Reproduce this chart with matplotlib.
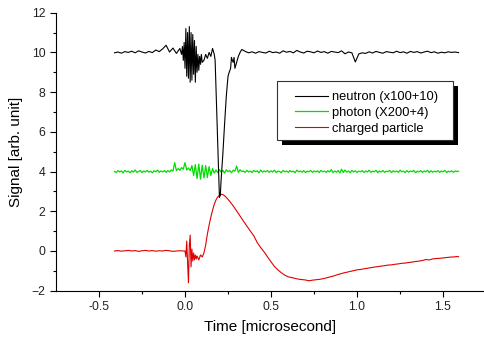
import numpy as np
import matplotlib
matplotlib.use("Agg")
import matplotlib.pyplot as plt
from matplotlib.patches import Rectangle

plt.rcParams['font.family'] = ['Liberation Sans', 'DejaVu Sans']

# ---------------- data ----------------
# neutron (x100+10)
neutron_base1_t = [-0.41, -0.39, -0.37, -0.35, -0.33, -0.31, -0.29, -0.27, -0.25, -0.23,
                   -0.21, -0.19, -0.17, -0.15, -0.13, -0.11, -0.09, -0.07, -0.05, -0.03]
neutron_base1_v = [9.98, 10.02, 9.96, 10.04, 10.00, 10.06, 9.98, 10.08, 10.02, 9.97,
                   10.05, 9.99, 10.12, 10.04, 10.18, 10.36, 10.02, 10.22, 9.95, 10.20]
neutron_burst_t = [-0.02, -0.015, -0.01, -0.005, 0.0, 0.005, 0.01, 0.015, 0.02, 0.025,
                   0.03, 0.035, 0.04, 0.045, 0.05, 0.055, 0.06, 0.065, 0.07, 0.075,
                   0.08, 0.085, 0.09, 0.095, 0.10, 0.11, 0.12, 0.13, 0.14, 0.15,
                   0.16, 0.17, 0.175, 0.18, 0.19, 0.20, 0.205, 0.21, 0.22, 0.23,
                   0.24, 0.25, 0.255, 0.265, 0.27, 0.275, 0.28, 0.285, 0.29, 0.30,
                   0.31, 0.32, 0.33]
neutron_burst_v = [9.9, 10.3, 9.6, 10.5, 9.2, 11.2, 8.8, 11.0, 8.7, 11.3,
                   8.5, 11.0, 8.6, 10.9, 8.9, 10.6, 8.5, 10.3, 9.0, 9.9,
                   9.1, 9.8, 9.4, 9.9, 9.5, 9.6, 9.9, 9.7, 10.0, 9.8,
                   10.2, 9.9, 9.6, 8.2, 5.4, 2.7, 2.8, 3.6, 4.9, 6.4,
                   7.8, 8.8, 8.95, 9.2, 9.75, 9.6, 9.5, 9.75, 9.2, 9.5,
                   9.8, 10.0, 10.15]
neutron_base2_v = [10.05, 9.98, 10.03, 9.96, 10.04, 10.00, 9.97, 10.06, 9.99, 10.02,
                   9.96, 10.08, 10.01, 10.05, 9.98, 10.10, 10.02, 9.97, 10.06, 10.03,
                   9.98, 10.07, 10.00, 10.04, 9.96, 10.05, 10.02, 9.99, 10.08, 9.93,
                   10.02, 9.98, 9.52, 9.92, 9.98, 9.95, 10.03, 9.97, 10.05, 10.00,
                   9.96, 10.04, 10.01, 9.98, 10.06, 9.99, 10.03, 9.96, 10.05, 10.00,
                   10.04, 9.97, 10.02, 10.06, 9.99, 10.03, 9.96, 10.01, 9.98, 10.03,
                   10.00, 10.02, 9.99]
neutron_base2_t = np.round(0.35 + 0.02 * np.arange(len(neutron_base2_v)), 2)

# photon (X200+4), sampled every 0.01 from -0.41
photon_v = [4.00, 3.95, 4.05, 3.98, 4.03, 3.93, 4.06, 3.99, 4.02, 3.94,
            4.04, 3.97, 4.08, 3.96, 4.01, 4.05, 3.95, 4.03, 3.98, 4.06,
            3.97, 4.02, 3.94, 4.04, 3.99, 4.07, 3.96, 4.03, 3.98, 4.05,
            3.96, 4.05, 3.98, 4.08, 4.02, 4.45, 4.04, 4.15, 4.06, 4.20,
            4.12, 4.45, 4.08, 4.18, 4.05, 4.30, 3.80, 4.35, 3.65, 4.38,
            3.62, 4.32, 3.68, 4.30, 3.70, 4.25, 3.80, 4.15, 3.92, 4.08,
            3.95, 4.10, 3.97, 4.06, 3.92, 4.09, 3.99, 4.05, 3.94, 4.07,
            4.02, 4.28, 3.96, 4.09, 4.00, 4.03, 3.96, 4.06, 3.98, 4.02,
            3.95, 4.06, 3.99, 4.04, 3.93, 4.08, 3.97, 4.03, 3.99, 4.05,
            3.96, 4.04, 3.98, 4.07, 3.95, 4.02, 4.00, 3.94, 4.06, 3.99,
            4.03, 3.96, 4.05, 3.98, 4.02, 3.94, 4.07, 3.99, 4.03, 3.97,
            4.05, 3.95, 4.02, 3.99, 4.06, 3.96, 4.03, 3.98, 4.04, 3.95,
            4.06, 3.99, 4.02, 3.96, 4.04, 3.98, 4.10, 3.94, 4.03, 3.97,
            4.05, 3.93, 4.12, 3.95, 4.08, 3.97, 4.03, 3.94, 4.06, 3.98,
            4.04, 3.96, 4.02, 3.99, 4.05, 3.95, 4.03, 3.98, 4.07, 3.96,
            4.02, 3.99, 4.06, 3.94, 4.03, 3.98, 4.05, 3.96, 4.02, 3.99,
            4.06, 3.95, 4.04, 3.98, 4.03, 3.96, 4.07, 3.99, 4.02, 3.95,
            4.05, 3.97, 4.03, 3.99, 4.06, 3.94, 4.02, 3.98, 4.05, 3.96,
            4.03, 3.99, 4.06, 3.95, 4.04, 3.97, 4.02, 3.98, 4.05, 3.96,
            4.03, 3.99, 4.06, 3.95, 4.02, 3.98, 4.04, 3.96, 4.03, 4.00,
            4.02]
photon_t = np.round(-0.41 + 0.01 * np.arange(len(photon_v)), 2)

# charged particle
charged_t = [-0.41, -0.39, -0.37, -0.35, -0.33, -0.31, -0.29, -0.27, -0.25, -0.23,
             -0.21, -0.19, -0.17, -0.15, -0.13, -0.11, -0.09, -0.07, -0.05, -0.03,
             -0.01, 0.0, 0.005, 0.01, 0.015, 0.02, 0.025, 0.03, 0.035, 0.04,
             0.045, 0.05, 0.055, 0.06, 0.065, 0.07, 0.08, 0.09, 0.10, 0.11,
             0.12, 0.13, 0.14, 0.15, 0.16, 0.17, 0.18, 0.19, 0.20, 0.21,
             0.22, 0.23, 0.24, 0.26, 0.28, 0.30, 0.32, 0.34, 0.36, 0.38,
             0.40, 0.42, 0.44, 0.46, 0.48, 0.50, 0.52, 0.54, 0.56, 0.58,
             0.60, 0.62, 0.64, 0.66, 0.68, 0.70, 0.72, 0.74, 0.76, 0.78,
             0.80, 0.82, 0.84, 0.86, 0.88, 0.90, 0.92, 0.94, 0.96, 0.98,
             1.00, 1.02, 1.04, 1.06, 1.08, 1.10, 1.12, 1.14, 1.16, 1.18,
             1.20, 1.22, 1.24, 1.26, 1.28, 1.30, 1.32, 1.34, 1.36, 1.38,
             1.40, 1.42, 1.44, 1.46, 1.48, 1.50, 1.52, 1.54, 1.56, 1.58, 1.59]
charged_v = [0.00, 0.02, -0.01, 0.01, 0.03, 0.00, 0.02, -0.02, 0.01, 0.03,
             0.00, 0.02, -0.01, 0.01, 0.00, 0.03, 0.01, -0.02, 0.00, 0.01,
             0.00, 0.0, -0.3, 0.5, -0.6, -1.6, 0.3, 0.8, -0.8, 0.1,
             -0.5, -0.1, -0.45, -0.2, -0.4, -0.25, -0.45, -0.2, -0.3, -0.1,
             0.3, 0.85, 1.3, 1.7, 2.05, 2.35, 2.57, 2.72, 2.80, 2.85,
             2.84, 2.78, 2.70, 2.50, 2.27, 2.02, 1.76, 1.50, 1.25, 1.00,
             0.76, 0.42, 0.17, -0.05, -0.30, -0.55, -0.78, -0.95, -1.10, -1.22,
             -1.30, -1.34, -1.38, -1.42, -1.44, -1.46, -1.50, -1.47, -1.45, -1.43,
             -1.40, -1.36, -1.31, -1.27, -1.21, -1.16, -1.11, -1.07, -1.03, -0.99,
             -0.95, -0.93, -0.90, -0.87, -0.84, -0.81, -0.79, -0.76, -0.74, -0.71,
             -0.70, -0.67, -0.65, -0.62, -0.61, -0.58, -0.56, -0.53, -0.51, -0.48,
             -0.43, -0.45, -0.40, -0.38, -0.37, -0.35, -0.33, -0.31, -0.30, -0.28, -0.29]

x_ticks = [-0.5, 0.0, 0.5, 1.0, 1.5]
y_ticks = [-2, 0, 2, 4, 6, 8, 10, 12]
labels = ["neutron (x100+10)", "photon (X200+4)", "charged particle"]

# ---------------- plot ----------------
W, H = 484, 338
fig = plt.figure(figsize=(W / 100, H / 100), dpi=100)
ax_l, ax_r, ax_t, ax_b = 56, 484, 12.7, 290.7
ax = fig.add_axes([ax_l / W, (H - ax_b) / H, (ax_r - ax_l) / W, (ax_b - ax_t) / H])

neutron_t = list(neutron_base1_t) + list(neutron_burst_t) + list(neutron_base2_t)
neutron_v = list(neutron_base1_v) + list(neutron_burst_v) + list(neutron_base2_v)

l1, = ax.plot(neutron_t, neutron_v, color='black', lw=0.8, label=labels[0], zorder=3)
l2, = ax.plot(photon_t, photon_v, color='#00dd00', lw=0.9, label=labels[1], zorder=2)
l3, = ax.plot(charged_t, charged_v, color='#e00000', lw=0.8, label=labels[2], zorder=2)

ax.set_xlim(-0.75, 1.738)
ax.set_ylim(-2, 12)
ax.set_xticks(x_ticks)
ax.set_xticklabels([f"{v:.1f}" for v in x_ticks])
ax.set_yticks(y_ticks)
ax.set_xticks([-0.25, 0.25, 0.75, 1.25], minor=True)
ax.set_yticks([-1, 1, 3, 5, 7, 9, 11], minor=True)
ax.tick_params(which='major', direction='out', length=4.5, width=0.8, labelsize=8.8,
               pad=3, labelcolor='#222222')
ax.tick_params(which='minor', direction='out', length=2.5, width=0.8)
ax.spines['top'].set_visible(False)
ax.spines['right'].set_visible(False)
ax.spines['left'].set_linewidth(0.8)
ax.spines['bottom'].set_linewidth(0.8)

ax.set_xlabel("Time [microsecond]", fontsize=11, labelpad=5)
ax.set_ylabel("Signal [arb. unit]", fontsize=11, labelpad=6)

# legend box (frame + shadow) in axes-fraction coordinates
def fx(px):
    return (px - ax_l) / (ax_r - ax_l)

def fy(py):
    return (ax_b - py) / (ax_b - ax_t)

box_x0, box_x1, box_y0, box_y1 = 277, 453, 81, 140
shadow = Rectangle((fx(box_x0 + 5), fy(box_y1 + 5)), fx(box_x1) - fx(box_x0),
                   fy(box_y0) - fy(box_y1), transform=ax.transAxes,
                   facecolor='black', edgecolor='none', zorder=5, clip_on=False)
frame = Rectangle((fx(box_x0), fy(box_y1)), fx(box_x1) - fx(box_x0),
                  fy(box_y0) - fy(box_y1), transform=ax.transAxes,
                  facecolor='white', edgecolor='#333333', lw=0.8, zorder=5.2,
                  clip_on=False)
ax.add_patch(shadow)
ax.add_patch(frame)

leg = ax.legend(handles=[l1, l2, l3], loc='upper left',
                bbox_to_anchor=(fx(295), fy(91)),
                fontsize=9.3, frameon=False, handlelength=2.55, handletextpad=0.32,
                labelspacing=0.3, borderpad=0, borderaxespad=0)
leg.set_zorder(6)

fig.savefig("out.png", dpi=100)
